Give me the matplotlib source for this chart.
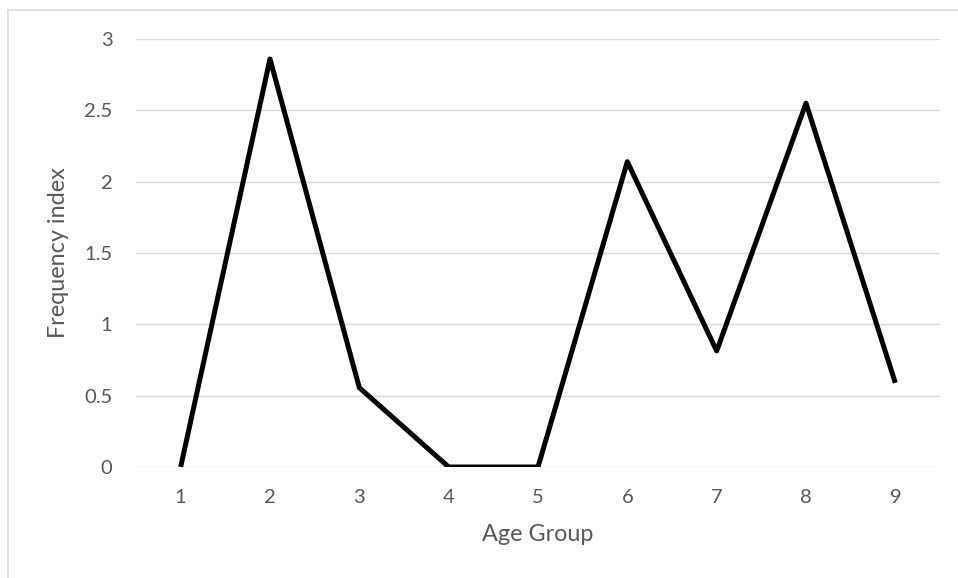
import matplotlib
matplotlib.use("Agg")
import matplotlib.pyplot as plt
from matplotlib.lines import Line2D

age_groups = ["1", "2", "3", "4", "5", "6", "7", "8", "9"]
frequency_index = [0, 2.86, 0.556, 0, 0, 2.14, 0.813, 2.55, 0.59]
y_ticks = [0, 0.5, 1, 1.5, 2, 2.5, 3]
y_tick_labels = ["0", "0.5", "1", "1.5", "2", "2.5", "3"]

W, H = 958, 578
fig = plt.figure(figsize=(W / 100, H / 100), dpi=100)
plt.rcParams['font.family'] = ['Lato', 'DejaVu Sans']
text_color = "#595959"
grid_color = "#d9d9d9"

ax = fig.add_axes([136 / W, (H - 467) / H, (940 - 136) / W, (467 - 39) / H])
x = list(range(1, len(age_groups) + 1))
ax.plot(x, frequency_index, color="black", linewidth=3.6,
        solid_joinstyle="round", solid_capstyle="butt", zorder=3)

ax.set_xlim(0.5, len(age_groups) + 0.5)
ax.set_ylim(0, 3)
ax.set_xticks(x)
ax.set_xticklabels(age_groups)
ax.set_yticks(y_ticks)
ax.set_yticklabels(y_tick_labels)
ax.tick_params(axis="both", length=0, labelsize=14.5, colors=text_color)
ax.tick_params(axis="x", pad=16)
ax.tick_params(axis="y", pad=17)
for s in ax.spines.values():
    s.set_visible(False)
ax.grid(axis="y", color=grid_color, linewidth=1.0)
ax.set_axisbelow(True)

ax.set_xlabel("Age Group", fontsize=16.8, color=text_color, labelpad=13)
ax.set_ylabel("Frequency index", fontsize=16.8, color=text_color, labelpad=11)

# chart border (top and left visible)
ytop = 1 - 10 / H
xl = 8 / W
fig.add_artist(Line2D([xl, 1], [ytop, ytop], transform=fig.transFigure,
                      color=grid_color, linewidth=1.2))
fig.add_artist(Line2D([xl, xl], [0, ytop], transform=fig.transFigure,
                      color=grid_color, linewidth=1.2))

fig.savefig("out.png", dpi=100, facecolor="white")
